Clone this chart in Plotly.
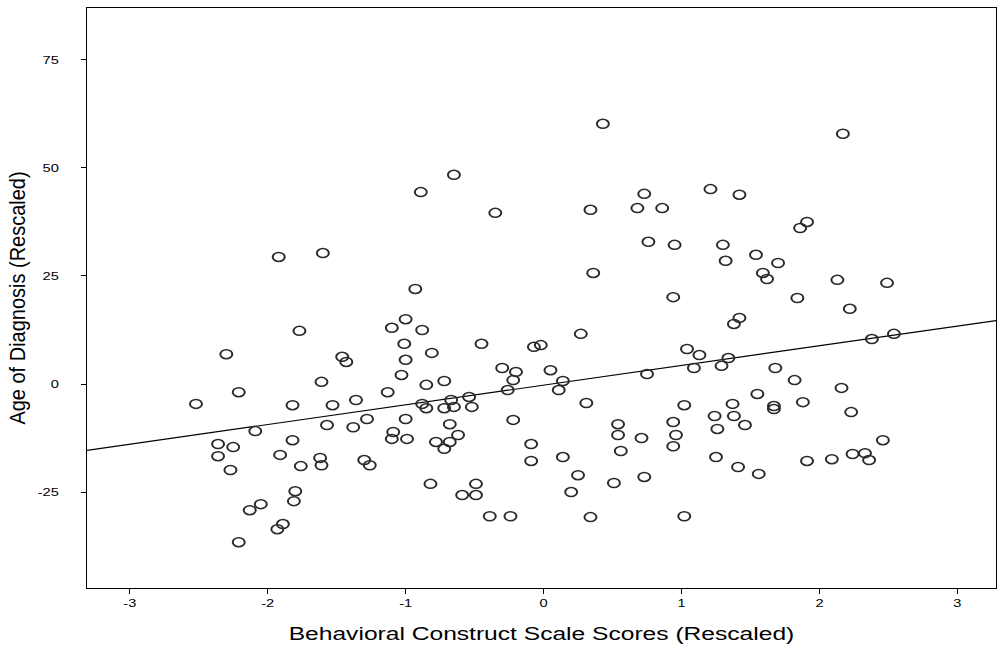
import numpy as np
import plotly.graph_objects as go

# Behavioral construct scale scores (rescaled)
scale_scores = [
    0.43, 2.17, -0.65, -0.89, 0.73, 1.21, 1.42, 0.34, 0.68, 0.86,
    -0.35, 1.91, 1.86, 0.76, 0.95, 1.30, -1.92, -1.60, 1.32, 1.54,
    1.70, 0.36, 1.59, 1.62, 2.13, 2.49, -0.93, 0.94, 1.84, 2.22,
    -1.00, 1.42, 1.38, -1.10, -0.88, -1.77, 0.27, 2.54, 2.38, -1.01,
    -0.45, -0.07, -0.02, 1.04, -0.81, -2.30, -1.46, -1.43, 1.13, 1.34,
    -1.00, -0.30, 1.09, 1.29, 1.68, 0.05, 0.75, -0.20, -1.03, -0.22,
    -0.72, 0.14, 1.82, -1.61, -0.85, 2.16, -0.26, 0.11, -2.21, -1.13,
    1.55, -1.36, -0.54, -0.67, 1.88, 0.31, -2.52, -1.82, -1.53, -0.88,
    -0.85, -0.72, -0.65, -0.52, 1.02, 1.37, 1.67, -1.28, -1.00, -0.68,
    -0.22, -1.57, -1.38, -2.09, -1.09, -1.10, -0.99, -0.78, -0.68, -0.62,
    -0.72, -2.36, -2.25, -2.36, -1.82, -1.91, -1.76, -1.62, -1.61, -1.30,
    -1.26, -2.27, -0.09, -0.09, 1.24, 1.38, 0.54, 0.94, 1.26, 0.54,
    0.71, 0.96, 0.94, 0.56, 1.25, 1.41, 0.14, 0.25, 0.20, 0.51,
    0.73, 0.34, 1.02, 1.67, 2.23, 1.46, 2.46, 1.56, 1.91, 2.09,
    2.24, 2.33, 2.36, -1.80, -1.81, -2.05, -2.13, -1.89, -1.93, -2.21,
    -0.82, -0.49, -0.59, -0.49, -0.39, -0.24,
]

# Age of diagnosis (rescaled)
age_of_diagnosis = [
    60.2, 57.9, 48.4, 44.4, 44.0, 45.1, 43.8, 40.3, 40.7, 40.7,
    39.6, 37.5, 36.1, 32.9, 32.2, 32.2, 29.4, 30.3, 28.5, 29.9,
    28.0, 25.7, 25.7, 24.3, 24.1, 23.4, 22.0, 20.1, 19.9, 17.4,
    15.0, 15.3, 13.9, 13.0, 12.5, 12.3, 11.6, 11.6, 10.4, 9.3,
    9.3, 8.6, 9.0, 8.1, 7.2, 6.9, 6.3, 5.1, 6.7, 6.0,
    5.6, 3.7, 3.7, 4.2, 3.7, 3.2, 2.3, 2.8, 2.1, 0.9,
    0.7, 0.7, 0.9, 0.5, -0.2, -0.9, -1.4, -1.4, -1.9, -1.9,
    -2.3, -3.7, -3.0, -3.7, -4.2, -4.4, -4.6, -4.9, -4.9, -4.6,
    -5.6, -5.6, -5.3, -5.3, -4.9, -4.6, -5.1, -8.1, -8.1, -9.3,
    -8.3, -9.5, -10.0, -10.9, -11.1, -12.7, -12.7, -13.4, -13.4, -11.8,
    -15.0, -13.9, -14.6, -16.7, -13.0, -16.4, -19.0, -17.1, -18.8, -17.6,
    -18.8, -19.9, -13.9, -17.8, -7.4, -7.4, -9.3, -8.8, -10.4, -11.8,
    -12.5, -11.8, -14.4, -15.5, -16.9, -19.2, -16.9, -21.1, -25.0, -22.9,
    -21.5, -30.8, -30.6, -5.8, -6.5, -9.5, -13.0, -20.8, -17.8, -17.4,
    -16.2, -16.0, -17.6, -24.8, -27.1, -27.8, -29.2, -32.4, -33.6, -36.6,
    -23.1, -23.1, -25.7, -25.7, -30.6, -30.6,
]

x_ticks = [-3, -2, -1, 0, 1, 2, 3]
y_ticks = [-25, 0, 25, 50, 75]
x_range = [-3.31, 3.28]
y_range = [-47.2, 87.0]

# Least-squares fit line across the full x range
slope, intercept = np.polyfit(scale_scores, age_of_diagnosis, 1)
fit_x = np.array(x_range)
fit_y = intercept + slope * fit_x

fig = go.Figure()
fig.add_trace(go.Scatter(
    x=fit_x, y=fit_y, mode="lines",
    line=dict(color="black", width=1.2),
    hoverinfo="skip", showlegend=False,
))
fig.add_trace(go.Scatter(
    x=scale_scores, y=age_of_diagnosis, mode="markers",
    marker=dict(symbol="circle-open", size=9, color="#2a2a2a",
                line=dict(width=1.5, color="#2a2a2a")),
    showlegend=False,
))

axis_common = dict(
    showgrid=False, zeroline=False, showline=True, linecolor="black",
    linewidth=1, mirror=True, ticks="outside", ticklen=5,
    tickcolor="black", tickfont=dict(family="Liberation Sans", size=11, color="black"),
)

fig.update_layout(
    width=997, height=649,
    margin=dict(l=87, r=1, t=8, b=61),
    paper_bgcolor="white", plot_bgcolor="white",
    xaxis=dict(range=x_range, tickvals=x_ticks, ticktext=[str(v) for v in x_ticks],
               title=dict(text="Behavioral Construct Scale Scores (Rescaled)",
                          font=dict(family="Liberation Sans", size=18.5, color="black"),
                          standoff=18),
               **axis_common),
    yaxis=dict(range=y_range, tickvals=y_ticks, ticktext=[str(v) for v in y_ticks],
               ticklabelstandoff=20,
               title=dict(text="Age of Diagnosis (Rescaled)",
                          font=dict(family="Liberation Sans", size=20, color="black"),
                          standoff=11),
               **axis_common),
)

# Widen text and markers horizontally (wide-aspect chart rendering)
post_js = """
var gd = document.getElementById('{plot_id}');
var sx = 1.33;
function widen(el, sxx, syy) {
  var base = el.getAttribute('data-base-tf');
  if (base === null) { base = el.getAttribute('transform') || ''; el.setAttribute('data-base-tf', base); }
  var x = parseFloat(el.getAttribute('x')) || 0, y = parseFloat(el.getAttribute('y')) || 0;
  el.setAttribute('transform', base + ' translate(' + x + ',' + y + ') scale(' + sxx + ',' + syy + ') translate(' + (-x) + ',' + (-y) + ')');
}
gd.querySelectorAll('.xtick text, .ytick text, text.xtitle').forEach(function(t){ widen(t, sx, 1); });
gd.querySelectorAll('text.ytitle').forEach(function(t){ widen(t, 1, 1.08); });
gd.querySelectorAll('.scatterlayer path.point').forEach(function(p){
  var base = p.getAttribute('data-base-tf');
  if (base === null) { base = p.getAttribute('transform') || ''; p.setAttribute('data-base-tf', base); }
  p.setAttribute('transform', base + ' scale(' + sx + ',1)');
});
"""

fig.write_html("out.html", post_script=post_js)
